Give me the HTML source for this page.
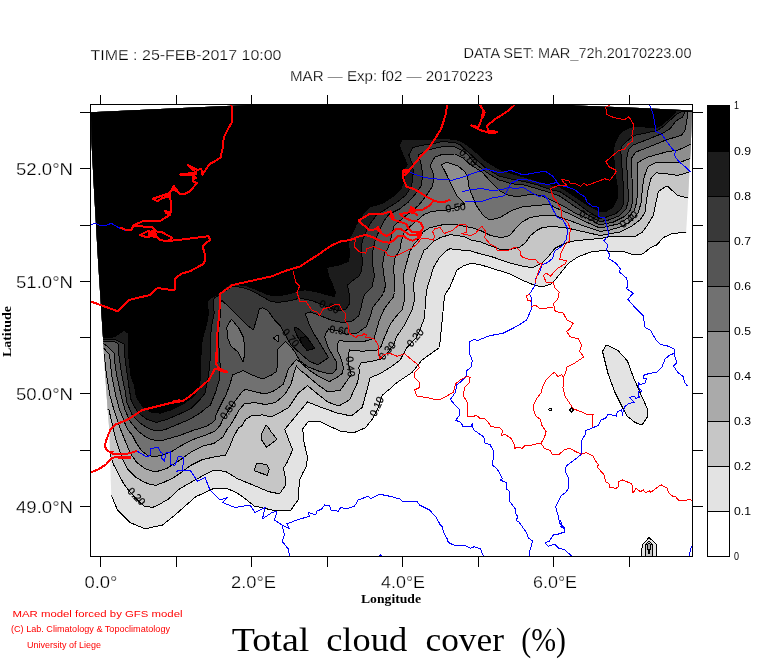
<!DOCTYPE html>
<html lang="en"><head><meta charset="utf-8"><title>Total cloud cover (%)</title>
<style>html,body{margin:0;padding:0;background:#fff}body{width:768px;height:662px;overflow:hidden}svg{display:block}.s{font-family:"Liberation Sans",sans-serif;fill:#000;stroke:#fff;stroke-width:.25px;paint-order:fill stroke}.r{font-family:"Liberation Sans",sans-serif;fill:#f00}.b{font-family:"Liberation Sans",sans-serif;fill:#000}.f{font-family:"Liberation Serif",serif;fill:#000}.c{font-family:"Liberation Sans",sans-serif;fill:#000;stroke:#000;stroke-width:.2px}</style></head><body>
<svg width="768" height="662" viewBox="0 0 768 662">
<rect width="768" height="662" fill="#fff"/>
<defs><clipPath id="dom"><polygon points="91.0,112.3 176.4,108.2 232.0,105.8 262.0,104.3 300.0,103.0 560.0,103.0 576.0,105.5 640.0,108.0 692.0,110.6 690.8,145.0 687.5,210.0 686.0,234.0 680.0,400.0 672.0,556.0 114.5,556.0 111.5,499.0 110.7,480.0 109.4,430.0 108.4,420.0 106.6,395.0 105.3,377.0 103.0,338.0 98.0,260.0 94.0,190.0 91.5,142.0"/></clipPath><clipPath id="frm"><rect x="91" y="105" width="601" height="451"/></clipPath></defs>
<g clip-path="url(#frm)" shape-rendering="crispEdges"><g clip-path="url(#dom)" stroke="#000" stroke-width="1" stroke-linejoin="round">
<polygon fill="#e3e3e3" points="80.0,95.0 700.0,95.0 700.0,232.5 687.8,232.5 673.0,233.3 663.5,237.5 656.6,245.0 651.0,247.5 642.5,253.9 633.5,255.0 625.0,252.0 608.5,251.2 605.6,250.4 591.7,251.7 578.3,256.7 568.3,263.3 561.7,271.7 555.0,280.0 551.5,283.8 542.0,287.0 534.0,285.0 521.7,280.0 508.3,273.3 491.7,268.3 480.0,264.6 471.0,263.3 463.3,266.0 457.0,270.0 450.0,286.8 444.5,295.6 442.0,322.5 439.5,347.5 422.0,360.0 412.0,372.5 397.0,382.5 390.0,388.8 382.5,395.0 378.0,408.0 373.0,418.4 365.3,427.8 354.4,432.5 341.9,431.7 329.4,426.2 320.0,421.6 308.3,421.6 302.8,428.6 303.6,440.3 307.5,457.5 306.0,466.9 302.8,473.0 299.5,480.0 298.2,500.0 290.8,510.0 272.0,510.0 254.2,506.0 247.7,500.7 237.3,493.0 226.9,488.4 213.9,488.4 195.6,496.8 185.2,506.0 175.0,515.0 162.5,525.0 145.0,528.8 130.0,522.5 117.5,510.0 111.2,495.0 80.0,495.0"/>
<polygon fill="#e3e3e3" points="606.0,345.0 602.5,351.5 608.0,373.5 615.0,392.5 622.5,407.5 627.0,416.0 635.0,422.5 642.0,425.0 647.3,417.0 647.0,408.0 640.0,392.5 633.5,377.5 627.5,361.0 618.0,350.5 610.0,346.5"/>
<polygon fill="#e3e3e3" points="641.5,556.0 642.2,545.0 649.0,537.5 656.0,543.8 656.5,556.0"/>
<polygon fill="#e3e3e3" points="548.5,409.5 550.2,408.0 552.0,409.5 550.2,411.0"/>
<polygon fill="#e3e3e3" points="569.5,410.0 571.5,408.0 573.5,410.0 571.5,412.0"/>
<polygon fill="#c6c6c6" points="80.0,95.0 700.0,95.0 700.0,198.0 688.5,198.2 677.7,195.5 667.0,185.8 658.4,191.5 656.0,202.0 653.4,215.0 647.0,226.0 642.5,232.0 636.0,236.0 628.5,236.8 611.0,236.5 600.0,238.5 591.7,239.2 575.0,240.8 565.0,243.3 555.0,248.3 548.3,256.7 541.7,263.3 533.3,267.5 525.0,266.7 508.3,262.5 491.7,256.7 480.4,253.9 471.0,251.0 458.0,249.7 450.0,248.8 446.0,250.8 439.8,257.0 433.5,267.5 430.0,279.0 426.8,289.4 425.7,298.8 424.5,317.5 420.0,330.0 416.0,338.0 407.0,347.5 400.0,360.3 391.0,366.8 380.7,373.3 370.0,377.8 366.9,390.3 362.2,407.5 351.2,416.0 337.2,413.0 321.6,407.5 307.5,402.0 295.0,416.9 284.8,429.4 288.8,440.3 292.7,449.7 287.2,462.2 283.3,468.4 284.8,473.0 285.8,485.0 279.5,493.8 268.5,491.6 252.9,485.0 237.3,478.6 225.6,471.4 213.9,470.0 206.0,474.0 193.0,481.2 180.0,488.5 175.0,493.0 168.8,498.8 160.0,504.0 152.5,507.5 143.8,506.0 135.0,497.5 128.0,489.4 124.0,484.2 118.8,474.8 113.5,464.4 110.0,454.0 80.0,454.0"/>
<polygon fill="#c6c6c6" points="645.0,556.0 645.5,545.0 649.0,541.0 652.5,545.0 653.0,556.0"/>
<polygon fill="#aaaaaa" points="80.0,95.0 700.0,95.0 700.0,171.5 691.0,171.5 678.0,175.4 667.7,174.0 656.0,172.8 650.8,178.6 648.2,189.0 646.2,202.0 645.0,212.5 640.0,220.0 632.0,226.0 620.0,232.0 600.0,235.5 583.3,231.7 568.3,228.3 555.0,226.7 550.0,226.8 543.0,227.3 536.7,230.4 530.4,235.6 525.2,243.0 520.0,247.0 511.7,249.2 501.2,249.7 490.8,246.0 480.4,241.9 470.0,239.8 464.6,236.6 450.3,234.7 440.8,237.3 433.5,241.5 428.3,246.7 426.8,248.8 424.2,249.8 420.0,260.2 415.8,273.8 413.2,285.2 414.3,294.6 414.8,298.8 412.0,310.0 404.5,325.0 400.0,331.7 396.4,336.9 393.8,344.7 388.0,352.0 380.7,359.0 373.0,361.0 361.2,363.0 358.6,368.0 359.8,370.0 357.5,382.5 349.7,399.7 338.8,406.0 327.8,402.0 316.9,393.4 307.5,385.6 298.0,393.4 288.8,407.5 274.7,415.3 270.0,416.9 262.5,414.9 252.0,415.5 245.6,419.4 241.7,426.0 238.6,427.8 233.4,437.0 229.5,447.3 225.6,455.0 213.9,457.0 202.0,459.7 190.4,465.6 180.0,473.4 173.0,477.9 164.6,482.0 156.2,485.2 151.0,484.7 143.8,482.0 135.4,476.9 128.0,469.6 123.4,461.2 120.8,454.0 116.7,442.5 113.5,430.0 109.0,410.0 80.0,408.0"/>
<polygon fill="#aaaaaa" points="647.0,545.5 649.0,543.0 651.0,545.5 649.0,553.5"/>
<polygon fill="#8e8e8e" points="80.0,95.0 700.0,95.0 700.0,158.0 690.8,158.3 679.4,162.5 656.5,162.0 648.0,166.7 644.2,176.7 642.3,189.0 641.4,202.0 638.0,213.0 632.0,220.5 622.0,226.5 610.0,230.0 600.0,231.4 583.3,225.8 568.3,220.0 555.0,215.8 550.0,215.3 543.0,215.3 530.4,217.4 522.0,222.0 514.8,229.4 509.6,235.6 501.2,237.7 490.8,235.6 480.4,230.4 471.0,227.5 458.0,225.0 445.0,224.3 437.7,225.8 429.4,227.9 423.0,232.0 419.0,238.3 413.8,244.6 411.7,248.8 410.1,250.8 406.5,263.3 403.3,275.8 404.4,288.3 404.9,298.8 402.0,310.0 396.4,316.0 389.8,325.0 384.6,337.0 380.7,347.3 376.8,350.0 362.5,351.2 349.5,350.0 348.2,355.0 349.0,366.0 351.2,374.7 340.3,390.3 327.8,391.9 316.9,384.0 306.0,374.7 299.7,370.0 296.4,366.0 293.8,373.9 291.0,384.3 284.6,394.7 275.5,402.5 265.0,404.5 254.7,402.5 244.3,403.8 239.0,410.3 233.9,419.4 230.0,426.0 228.0,427.8 223.0,437.0 213.9,443.4 203.4,446.0 190.4,452.5 180.0,460.0 166.7,468.5 158.3,471.1 152.0,471.1 144.8,468.5 136.5,462.3 130.2,453.0 125.0,440.4 120.8,430.0 114.0,410.0 109.8,395.0 106.8,376.8 105.2,364.3 104.3,354.0 80.0,353.0"/>
<polygon fill="#717171" points="80.0,95.0 700.0,95.0 700.0,144.3 690.8,144.3 678.3,150.0 665.8,152.1 647.1,157.3 638.0,162.5 637.0,168.8 637.8,176.0 637.5,189.0 636.8,202.0 634.0,211.0 628.0,218.0 618.0,224.0 600.0,228.1 581.7,220.0 568.3,213.3 555.0,207.5 550.0,204.4 536.7,205.4 522.0,207.0 511.7,210.6 500.2,217.4 489.8,220.0 483.5,215.8 476.2,205.4 472.0,195.0 469.2,188.3 467.6,176.9 465.0,171.7 457.7,165.9 446.8,162.3 441.6,164.9 446.2,173.8 449.0,180.0 456.8,195.6 464.6,204.0 455.0,208.0 445.0,210.6 432.5,211.2 424.2,214.4 416.9,220.6 409.6,226.9 404.4,232.0 402.3,238.3 400.7,244.6 400.2,248.8 395.0,258.1 393.4,269.6 395.0,282.0 394.5,292.5 393.0,297.5 384.6,308.2 379.4,320.0 376.8,329.0 374.2,338.2 362.5,342.0 339.0,340.8 337.0,344.7 337.8,351.2 341.7,360.3 343.6,368.0 342.3,373.3 338.8,376.2 329.4,381.7 318.4,376.2 309.0,370.0 300.0,362.0 296.4,359.5 288.5,368.6 286.0,376.5 283.3,384.3 274.2,390.8 265.0,394.0 256.0,392.0 245.6,389.5 243.0,390.8 235.0,401.0 222.0,420.7 220.4,425.2 215.0,431.0 206.0,435.0 193.0,439.5 180.0,446.3 173.0,450.8 164.6,454.5 155.2,456.6 148.0,455.5 141.7,450.8 136.5,443.5 132.3,435.2 128.0,430.0 125.0,423.5 119.0,408.0 115.6,395.0 111.9,376.8 110.7,365.8 109.5,354.5 104.0,348.6 80.0,348.0"/>
<polygon fill="#555555" points="80.0,95.0 700.0,95.0 700.0,111.0 688.2,111.2 686.7,120.8 685.1,130.2 681.5,135.4 666.9,139.6 649.2,146.9 635.6,152.1 631.5,158.3 631.5,168.0 631.9,176.0 632.5,189.0 632.5,202.0 630.6,210.0 624.7,216.4 613.0,222.3 600.0,224.9 589.0,219.0 575.0,213.0 565.0,207.0 551.5,200.3 541.0,195.3 530.0,194.5 516.7,196.7 508.0,195.0 500.0,191.0 490.0,181.0 482.0,172.0 470.0,164.4 463.0,158.1 454.6,154.0 442.0,154.5 434.8,157.1 430.1,165.4 433.8,174.8 433.5,180.0 432.5,186.2 426.2,195.6 419.0,205.0 411.7,211.2 401.2,219.6 394.0,225.8 391.9,234.2 389.8,242.5 387.7,248.8 384.6,252.9 382.5,264.4 384.0,275.8 385.6,285.2 383.5,293.5 379.5,299.0 373.0,307.0 370.3,316.0 366.4,326.5 357.3,333.0 346.9,334.3 338.0,331.0 328.6,329.0 326.0,333.0 324.7,336.9 328.0,347.3 332.5,355.2 336.7,362.5 336.7,368.8 333.0,373.0 326.0,373.0 319.5,371.4 307.8,366.8 300.0,361.0 295.0,352.0 291.0,346.9 285.6,341.7 277.8,349.0 277.5,360.0 276.8,371.2 271.6,375.0 262.5,379.0 252.0,375.0 243.0,370.6 232.5,375.0 230.0,384.3 226.0,394.7 220.8,405.0 215.6,415.5 215.0,420.0 212.5,422.6 206.0,426.5 193.0,430.4 180.0,435.4 162.5,440.4 152.0,439.9 144.8,436.2 138.0,431.0 130.2,421.5 125.0,410.0 121.0,395.0 117.0,376.8 115.0,364.3 114.2,353.3 109.1,347.8 103.6,343.5 80.0,343.5"/>
<polygon fill="#717171" points="231.2,319.5 226.7,327.3 228.0,339.0 231.2,346.5 237.8,351.7 243.0,362.0 245.0,353.0 244.3,345.0 243.6,337.7 239.0,328.6 233.9,322.0"/>
<polygon fill="#717171" points="273.0,338.0 278.0,335.0 278.0,341.6"/>
<polygon fill="#393939" points="80.0,95.0 700.0,95.0 700.0,111.0 685.6,111.2 682.5,117.2 676.2,120.8 670.0,128.6 662.7,133.3 646.0,140.1 633.5,144.8 628.3,150.0 626.5,160.0 627.3,176.0 628.0,189.0 628.0,202.0 626.0,209.2 619.5,215.8 607.8,220.3 600.0,221.6 589.0,215.5 574.0,206.0 560.0,196.2 551.0,192.9 538.0,189.0 525.0,185.1 512.0,183.8 499.0,179.9 486.0,172.0 474.3,163.0 468.0,155.0 463.0,150.8 454.6,146.7 442.0,146.7 428.5,149.8 421.2,153.4 418.6,155.0 421.2,164.4 422.8,174.8 422.0,180.0 421.0,186.2 415.8,193.5 408.5,201.9 399.2,209.2 388.8,214.4 383.5,221.7 379.4,230.0 375.2,240.4 373.0,250.0 372.9,266.5 374.5,275.8 371.9,287.3 364.6,294.6 363.0,298.8 361.2,307.0 358.6,316.0 352.0,321.2 343.0,322.5 332.5,320.6 319.5,315.4 310.4,312.0 305.2,313.4 309.0,323.8 314.3,334.3 320.8,344.7 328.5,357.7 318.0,364.7 309.6,361.5 301.2,354.2 290.8,344.8 285.6,335.4 280.4,326.0 274.2,319.5 267.7,310.4 262.5,307.8 259.2,309.0 257.3,316.9 253.4,329.9 248.2,326.0 239.0,316.9 230.0,307.8 222.0,300.6 220.2,303.8 220.8,311.7 219.5,322.0 218.2,335.0 218.2,340.0 219.5,353.0 220.2,366.0 219.5,379.0 215.6,392.0 210.4,405.0 205.0,409.0 200.0,413.1 189.6,419.4 177.0,424.6 164.6,429.8 156.2,430.8 149.0,428.8 140.6,423.5 132.3,415.2 127.0,402.7 125.0,390.2 122.1,376.8 120.9,369.0 119.0,356.4 118.6,344.2 113.9,341.1 103.2,341.9 80.0,342.0"/>
<polygon fill="#1c1c1c" points="80.0,95.0 700.0,95.0 700.0,111.0 682.5,111.2 676.2,114.6 670.0,120.3 663.8,126.0 658.0,130.2 651.2,131.8 634.6,135.4 629.4,139.0 622.0,146.0 620.8,150.0 621.5,163.0 622.8,176.0 623.4,189.0 624.0,202.0 621.5,208.6 615.6,213.8 606.5,217.0 600.0,218.4 589.0,212.0 574.0,201.0 560.0,191.6 551.0,189.7 538.0,185.1 525.0,181.8 512.0,179.2 499.0,176.0 486.0,168.2 473.0,156.5 460.0,144.7 454.6,142.5 442.0,141.5 431.7,144.0 420.2,145.6 412.9,147.7 408.8,155.0 412.4,164.4 413.4,171.7 412.4,179.0 412.7,180.0 411.1,187.3 405.4,195.6 396.0,202.9 385.6,209.2 376.2,215.4 370.0,223.8 366.7,230.0 362.5,240.4 361.0,247.7 362.5,261.2 361.5,270.6 359.4,275.8 352.0,281.0 347.4,285.2 349.0,292.5 350.0,303.0 345.6,309.5 337.8,310.8 325.0,306.0 313.0,301.0 300.0,298.0 291.0,300.6 278.0,302.5 270.3,301.2 261.2,296.0 252.0,290.8 243.0,287.6 233.9,286.3 231.2,287.0 219.5,294.7 214.3,298.0 213.0,303.8 214.3,313.0 211.7,326.0 210.0,340.0 210.4,353.0 209.8,366.0 207.8,379.0 205.0,393.3 200.0,399.6 191.7,408.0 179.2,414.2 166.7,419.4 156.2,422.5 146.9,419.4 137.5,412.0 131.2,400.6 128.6,385.0 127.6,376.8 126.4,369.0 124.8,356.4 124.0,343.9 114.6,339.5 103.2,339.5 80.0,339.5"/>
<polygon fill="#1c1c1c" points="294.5,327.6 296.0,327.0 301.2,331.2 306.5,336.5 311.7,343.8 314.8,348.4 307.0,350.5 302.3,344.8 298.0,337.5 294.5,330.2"/>
<polygon fill="#000000" points="80.0,95.0 700.0,95.0 700.0,110.0 676.8,110.4 670.0,117.7 661.7,125.0 655.4,128.1 640.8,126.6 630.4,127.1 624.2,130.2 620.0,133.3 615.0,143.0 613.0,150.0 614.3,163.0 615.6,176.0 617.6,189.0 617.0,199.5 613.0,207.0 606.0,211.5 599.0,211.0 589.0,206.0 574.0,196.0 560.0,187.0 551.0,185.1 538.0,181.2 525.0,177.3 512.0,173.6 499.0,169.2 486.0,161.2 473.0,149.6 466.0,144.5 460.0,140.6 454.6,139.4 442.0,138.3 431.7,139.4 419.2,139.9 402.5,139.4 399.4,145.6 403.5,156.0 407.2,164.4 403.5,170.6 404.6,179.0 404.4,180.0 401.2,188.3 394.0,195.6 383.5,202.9 370.0,207.0 363.0,214.0 359.5,220.0 355.5,226.0 354.2,230.0 350.0,237.3 348.4,245.6 350.0,252.9 348.4,261.2 339.6,264.9 326.6,267.5 328.6,275.8 332.3,284.2 335.4,292.5 334.4,296.7 326.0,294.6 315.6,291.5 305.2,289.9 300.0,290.3 291.0,293.4 278.0,296.0 267.7,294.7 256.0,289.5 245.6,285.6 233.9,284.3 230.0,283.7 223.4,289.5 217.0,294.7 209.0,299.3 207.2,302.5 208.5,313.0 206.5,324.7 203.0,337.0 201.3,345.0 200.7,366.0 200.5,379.0 198.5,389.0 193.8,396.5 183.3,403.8 170.8,410.0 160.4,413.1 152.0,412.6 142.7,406.9 136.5,397.5 134.4,385.0 131.1,376.8 129.6,364.3 128.0,348.6 128.0,333.2 124.5,330.1 114.6,336.8 103.2,338.0 80.0,338.0"/>
<polygon fill="#aaaaaa" points="266.0,425.2 262.0,433.0 261.4,439.5 266.6,447.3 277.0,439.5 271.0,431.7 268.5,427.8"/>
<polygon fill="#aaaaaa" points="256.8,463.0 254.2,470.8 267.2,475.3 269.2,469.5 267.2,465.0 260.7,463.6"/>
<polygon fill="#101010" points="300.2,338.0 306.0,336.5 311.7,343.8 314.8,348.4 307.0,350.5 302.3,344.8"/>
</g>
<text class="c" x="466.0" y="160.0" font-size="10.5" transform="rotate(42 466.0 160.0)" text-anchor="middle">0.70</text>
<text class="c" x="456.0" y="211.0" font-size="10.5" transform="rotate(-8 456.0 211.0)" text-anchor="middle">0.50</text>
<text class="c" x="588.0" y="220.0" font-size="10.5" transform="rotate(22 588.0 220.0)" text-anchor="middle">0.60</text>
<text class="c" x="631.0" y="222.0" font-size="10.5" transform="rotate(-40 631.0 222.0)" text-anchor="middle">0.40</text>
<text class="c" x="328.0" y="310.0" font-size="10.5" transform="rotate(22 328.0 310.0)" text-anchor="middle">0.80</text>
<text class="c" x="339.0" y="334.0" font-size="10.5" transform="rotate(8 339.0 334.0)" text-anchor="middle">0.60</text>
<text class="c" x="288.0" y="340.0" font-size="10.5" transform="rotate(50 288.0 340.0)" text-anchor="middle">0.70</text>
<text class="c" x="347.0" y="367.0" font-size="10.5" transform="rotate(85 347.0 367.0)" text-anchor="middle">0.40</text>
<text class="c" x="390.0" y="353.0" font-size="10.5" transform="rotate(-50 390.0 353.0)" text-anchor="middle">0.30</text>
<text class="c" x="418.0" y="340.0" font-size="10.5" transform="rotate(-50 418.0 340.0)" text-anchor="middle">0.20</text>
<text class="c" x="380.0" y="408.0" font-size="10.5" transform="rotate(-65 380.0 408.0)" text-anchor="middle">0.10</text>
<text class="c" x="231.0" y="412.0" font-size="10.5" transform="rotate(-55 231.0 412.0)" text-anchor="middle">0.50</text>
<text class="c" x="134.0" y="499.0" font-size="10.5" transform="rotate(45 134.0 499.0)" text-anchor="middle">0.20</text>
<polyline fill="none" stroke="#0000ff" stroke-width="1" points="90.2,225.0 95.0,223.2 100.0,225.5 107.5,225.0 111.2,223.2 117.5,227.0 123.8,230.0 130.0,230.5"/>
<polyline fill="none" stroke="#0000ff" stroke-width="1" points="136.5,450.8 146.9,457.0 150.0,455.0 151.0,448.2 158.3,447.7 160.4,451.9 162.5,453.4 161.5,458.0 164.6,461.2 165.6,453.0 170.8,451.9 170.8,464.4 175.0,465.4 178.0,457.0 180.0,456.2 183.8,457.5 182.5,470.0 176.2,471.2 190.0,470.0 197.5,481.2 205.0,477.5 210.0,490.0 220.0,500.0 227.5,497.5 222.5,502.5 235.0,507.5 250.0,505.0 255.0,512.5 265.0,507.5 262.5,518.8 272.0,512.5 277.0,511.2 274.5,520.0 282.0,525.0 284.5,535.0 282.0,541.2 288.2,548.8 289.5,556.0"/>
<polyline fill="none" stroke="#0000ff" stroke-width="1" points="282.0,525.0 289.5,528.8 287.0,523.8 297.0,520.0 309.5,516.2 308.2,512.5 315.8,515.0 317.0,511.2 322.0,508.8 324.5,505.0 329.5,505.5 330.8,510.0 338.2,511.2 340.8,507.5 347.0,508.8 354.5,506.2 358.2,500.0 368.2,496.2 370.8,498.8 379.5,494.2 389.5,496.2 399.5,498.8 402.0,501.2 417.0,501.2 419.5,505.0 429.5,510.0 436.0,517.0 440.0,524.4 442.0,526.5 444.2,533.8 447.3,539.0 448.3,542.5 455.6,545.8 465.0,545.2 470.2,548.3 474.4,546.7 480.6,548.8 482.7,554.6 483.8,556.2"/>
<polyline fill="none" stroke="#0000ff" stroke-width="1" points="379.5,556.0 380.8,554.5 382.0,556.0"/>
<polyline fill="none" stroke="#0000ff" stroke-width="1" points="408.5,171.0 414.0,174.0 421.0,176.5 430.0,178.5 440.0,179.2 452.5,180.2 463.0,177.0 485.8,168.8 500.4,173.0 510.8,170.4 523.3,175.0 533.8,173.0 545.2,171.2 552.5,176.0 556.7,181.2 554.2,183.3 548.3,184.4 540.0,183.3 529.6,180.2 519.2,179.2 510.8,183.3 506.7,191.7 504.6,195.8 492.0,198.0 479.6,202.0 465.0,201.0"/>
<polyline fill="none" stroke="#0000ff" stroke-width="1" points="461.9,191.7 471.2,189.6 481.7,188.5 492.0,190.6 502.5,189.6 508.8,187.5 515.0,188.5 523.3,187.5 531.7,192.7 538.0,196.2 544.2,195.8 548.3,200.0 553.5,210.4 556.7,216.7 563.0,219.8 567.5,228.3 566.7,238.8 561.9,246.0 554.6,251.2 552.5,258.5 547.3,262.7 542.0,264.8 540.0,271.0 535.8,278.3 534.8,285.6 529.6,294.0 531.7,298.0 531.2,309.6 526.5,320.0 520.2,324.2 513.0,328.3 502.5,333.5 490.0,335.6 481.7,338.8 477.5,340.8 474.4,339.2 469.2,341.9 469.2,352.5 472.3,360.8 471.2,367.0 466.0,371.2 466.0,376.5 460.8,381.7 456.7,384.8 455.6,392.0 450.4,399.4 454.6,404.6 459.8,409.8 459.8,415.0 455.6,420.2 460.8,422.3 463.0,426.5 471.2,426.5 472.3,423.3 473.3,429.6 483.8,436.9 484.8,443.0 490.0,444.6 493.8,451.5 492.5,465.0 497.3,469.2 502.5,478.5 500.4,480.0 506.2,482.7 506.7,489.0 509.8,492.0 509.8,501.5 516.0,509.8 515.4,513.0 518.0,517.0 516.0,520.2 519.2,522.3 526.5,532.7 528.5,538.0 532.7,541.0 531.7,544.2 529.6,551.5 529.6,556.2"/>
<polyline fill="none" stroke="#0000ff" stroke-width="1" points="556.7,182.3 560.0,185.4 566.2,186.5 574.6,189.6 579.8,193.8 585.0,196.9 587.0,202.0 592.3,206.2 598.5,207.3 598.5,216.7 604.8,217.7 606.9,226.2 609.0,234.6 603.8,240.8 608.0,245.0 606.2,250.2 610.0,254.4 608.3,258.5 615.2,262.7 617.3,264.8 620.4,269.0 619.4,272.0 626.7,278.3 627.7,284.6 626.7,288.8 633.3,293.3 627.7,299.2 635.0,307.5 643.3,315.8 645.0,327.3 650.6,330.4 655.8,339.8 660.0,344.2 668.3,346.2 674.6,349.4 674.2,353.5 676.7,363.0 673.5,366.0 677.7,372.3 683.0,376.5 685.0,382.7 687.5,386.2"/>
<polyline fill="none" stroke="#0000ff" stroke-width="1" points="649.6,104.6 652.7,112.5 654.8,123.0 655.8,131.2 662.0,134.4 666.2,140.6 672.5,149.0 675.6,151.0 674.2,155.2 678.8,161.5 685.0,166.7 690.2,171.9"/>
<polyline fill="none" stroke="#0000ff" stroke-width="1" points="674.2,353.5 670.4,354.6 665.2,358.8 662.0,367.0 656.9,372.3 649.6,373.3 643.3,375.4 643.3,378.5 646.5,378.5 645.4,382.7 640.2,384.8 638.0,381.7 639.2,389.0 642.3,391.0 638.0,392.0 639.2,397.3 636.0,398.3 634.0,396.2 629.8,397.3 634.0,402.5 628.8,403.5 624.6,406.7 622.5,414.0 621.5,409.8 617.3,411.9 616.2,416.0 608.0,414.0 605.8,418.0 600.6,420.2 598.5,425.4 593.3,427.5 586.0,430.6 585.0,434.8 581.5,441.0 581.5,454.2 574.6,459.8 566.2,466.0 565.2,471.2 568.3,477.5 569.0,486.9 566.2,492.0 560.8,496.2 555.6,506.7 557.7,514.0 559.8,523.3 564.0,527.5 564.6,531.7 559.8,533.8 553.5,534.8 549.4,541.0 545.2,543.0 548.3,546.2 554.6,544.2 558.8,548.3 564.0,549.4 570.2,554.6 571.7,556.2"/>
<polyline fill="none" stroke="#0000ff" stroke-width="1" points="560.0,520.2 562.0,524.4 561.0,526.5 564.5,529.2 564.2,532.7 560.0,533.4"/>
<polyline fill="none" stroke="#0000ff" stroke-width="1" points="692.3,545.2 690.2,550.4 689.6,556.2"/>
<polyline fill="none" stroke="#ff0000" stroke-width="1" points="293.2,271.2 295.8,282.5 299.5,286.2 297.0,292.5 300.0,301.5 305.9,301.5 312.4,310.8 316.9,311.5 319.5,315.4 323.4,308.9 330.0,307.0 335.2,304.3 339.0,304.3 341.7,309.5 345.6,313.4 344.9,320.0 348.2,325.2 348.8,333.0 352.0,335.0 356.0,337.5 358.0,335.6 362.5,335.0 363.8,333.6 366.4,335.0 365.1,337.5 373.0,338.2 375.5,340.8 378.0,344.7 378.0,352.5 380.0,359.0 383.3,354.5 389.8,353.2 393.8,355.0 397.0,356.2 404.5,353.8 412.0,360.0 417.0,363.8 419.5,367.5 414.5,372.5 414.5,377.5 419.5,382.5 419.5,387.5 414.5,390.0 417.0,396.2 427.0,397.5 437.0,400.0 440.0,399.4 448.3,395.2 453.5,392.0 455.6,383.8 460.8,379.6 467.0,376.5 470.2,377.5 469.2,382.7 465.0,386.9 463.0,395.2 467.0,401.5 468.0,407.7 467.0,416.0 471.2,417.0 476.5,415.4 480.6,418.8 484.8,418.8 489.0,423.3 491.0,426.5 496.2,427.5 499.4,427.5 502.5,430.6 501.5,435.8 504.6,434.2 510.8,438.0 514.0,444.2 514.0,448.3 519.2,447.3 522.3,448.3 525.4,445.2 531.7,445.2 538.0,443.5 541.0,443.0"/>
<polyline fill="none" stroke="#ff0000" stroke-width="1" points="350.0,240.1 355.2,239.5 354.6,247.3 359.1,251.8 365.6,253.2 367.0,248.6 373.4,246.6 380.0,249.2 385.2,251.2 387.8,255.1 393.0,257.0 402.0,253.2 411.2,248.6 417.7,243.4 421.0,238.8 428.0,238.8 433.3,240.1 434.6,236.2 432.7,231.7 434.6,229.0 440.0,227.3 444.2,233.5 452.5,230.4 459.8,224.2 467.0,225.2 466.7,232.5 460.8,233.5 471.2,235.6 475.4,233.5 481.7,226.2 485.8,231.5 484.8,237.7 490.0,244.0 496.2,247.0 497.3,250.8 506.7,250.8 516.0,247.0 520.2,251.2 521.2,256.5 529.6,259.6 535.8,259.6 538.0,262.7 542.0,263.8 539.0,270.0 536.9,276.2 534.8,283.5"/>
<polyline fill="none" stroke="#ff0000" stroke-width="1" points="611.0,104.6 605.8,107.3 606.9,114.6 614.2,117.7 624.6,119.8 628.8,116.7 634.0,125.0 631.9,135.4 633.0,140.6 627.7,144.8 624.6,149.0 618.3,151.0 612.0,156.2 605.8,161.5 609.0,166.7 615.2,169.8 616.2,171.9 610.0,180.2 604.8,178.8 595.4,182.3 587.0,185.4 584.0,183.3 580.8,186.5 574.6,183.3 570.4,183.3 568.3,180.2 562.0,179.8 564.2,183.3 567.3,185.0 558.8,185.4 550.4,188.5 553.5,198.0 555.6,200.0 560.8,208.3 561.9,216.7 568.0,223.0 570.2,228.3 569.6,240.8 565.0,245.0 560.8,253.3 559.8,259.6 566.7,260.6 565.0,263.8 556.7,269.0 550.4,276.2 546.2,273.0 543.5,275.8 546.2,282.5 553.5,282.5 554.6,287.7 559.2,291.9 557.7,299.2 553.5,303.3 554.6,309.6 555.6,311.7 563.0,312.7 567.0,320.0 573.3,323.0 570.2,328.3 566.7,331.5 570.2,336.7 578.5,338.8 581.7,345.0 579.6,351.2 583.8,356.7 579.6,359.8 573.3,364.0 567.0,367.0 565.0,374.4 563.3,377.5 563.0,388.0 565.0,396.2 569.2,402.5 573.3,408.8 581.7,411.9 585.8,414.0 593.0,414.6 592.0,422.3 593.0,426.5"/>
<polyline fill="none" stroke="#ff0000" stroke-width="1" points="529.6,294.0 526.5,296.0 527.5,300.2 531.2,301.2"/>
<polyline fill="none" stroke="#ff0000" stroke-width="1" points="531.2,306.5 535.8,305.4 540.0,308.5 553.5,307.5"/>
<polyline fill="none" stroke="#ff0000" stroke-width="1" points="541.0,443.0 544.2,438.0 546.2,431.7 542.0,425.4 540.0,419.2 535.8,416.0 533.8,410.8 533.8,404.6 536.9,398.3 541.0,393.0 543.0,385.8 546.2,379.6 551.5,374.4 554.6,372.3 557.7,376.5 561.9,374.4 563.3,377.5"/>
<polyline fill="none" stroke="#ff0000" stroke-width="1" points="541.0,443.0 544.2,448.3 550.4,450.4 552.5,454.6 558.8,454.6 565.0,449.4 570.2,448.3 575.4,451.5 581.5,454.2 586.0,452.5 593.3,456.2 595.4,460.8 598.5,464.6 597.0,467.0 603.8,474.4 605.8,481.7 609.0,483.8 609.0,487.5 616.2,488.3 618.0,486.9 618.0,481.7 622.5,480.0 631.9,483.8 633.0,493.0 636.0,488.3 640.2,491.7 643.3,490.0 645.4,492.5 649.6,491.0 650.6,492.5 658.0,486.9 661.0,484.8 667.3,488.0 668.3,492.0 671.5,495.8 675.6,496.7 678.8,500.4 687.0,500.0 690.2,499.4 692.3,500.8"/>
<polyline fill="none" stroke="#ff0000" stroke-width="2" stroke-linejoin="round" points="231.2,104.5 232.5,112.5 231.8,122.5 227.5,130.0 223.8,137.5 222.5,148.8 220.5,157.5 216.2,160.5 210.0,163.8 206.2,168.8 202.5,174.5 201.2,168.8 197.5,170.0 187.5,165.0 196.2,172.5 180.0,174.5 193.8,175.5 192.5,181.2 197.0,183.0 190.0,191.2 185.0,193.8 180.0,193.8 176.2,190.0 173.8,185.5 171.2,191.2 167.5,193.8 152.5,198.8 157.5,201.2 162.5,198.0 170.0,196.2 171.2,205.0 171.2,212.5 165.0,211.2 166.2,213.0 170.5,214.5 160.0,221.2 143.8,220.8 133.8,225.0 131.2,230.0 126.2,230.0 120.0,227.5"/>
<polyline fill="none" stroke="#ff0000" stroke-width="2" stroke-linejoin="round" points="133.8,226.2 152.5,226.8 155.0,231.2 162.5,232.5 172.5,238.0 167.5,241.2 160.0,240.0 156.2,236.2 155.0,230.0 153.8,235.0 147.5,237.5 140.0,235.0 147.5,231.2 153.0,232.0"/>
<polyline fill="none" stroke="#ff0000" stroke-width="2" stroke-linejoin="round" points="167.5,241.2 187.5,238.8 208.8,236.2 210.0,240.0 205.0,243.8 202.5,246.2 204.5,252.5 205.0,260.0 203.8,263.8 190.0,271.2 181.2,273.8 175.0,278.8 174.5,290.5 157.5,288.0 150.0,295.0 128.8,300.0 117.5,311.2 90.0,301.2"/>
<polyline fill="none" stroke="#ff0000" stroke-width="2" stroke-linejoin="round" points="127.0,420.0 142.5,410.0 172.5,402.5 182.5,401.2 190.0,396.2 208.8,380.0 215.0,368.8 220.0,370.0 227.5,372.0 220.0,370.0 216.2,363.8 217.0,350.0 217.5,332.5 219.5,310.0 220.0,293.8 232.5,285.0 272.0,276.2 285.0,271.0 300.0,266.5 310.4,259.7 320.8,252.9 331.2,245.6 340.6,241.5 350.0,240.1"/>
<polyline fill="none" stroke="#ff0000" stroke-width="2" stroke-linejoin="round" points="127.0,420.0 115.2,424.5 110.7,429.0 107.0,438.0 104.8,445.4 106.1,449.0 109.8,452.2 113.4,454.0 124.3,454.0 130.6,453.1 137.0,450.8"/>
<polyline fill="none" stroke="#ff0000" stroke-width="2" stroke-linejoin="round" points="109.5,451.5 113.5,452.5"/>
<polyline fill="none" stroke="#ff0000" stroke-width="2" stroke-linejoin="round" points="130.6,456.7 117.9,456.7 111.6,458.0 106.1,464.4 98.9,469.0 90.7,472.6"/>
<polyline fill="none" stroke="#ff0000" stroke-width="2" stroke-linejoin="round" points="130.6,458.0 117.9,458.0"/>
<polyline fill="none" stroke="#ff0000" stroke-width="2" stroke-linejoin="round" points="447.3,104.5 445.5,115.3 441.0,129.2 435.8,137.5 428.5,148.8 419.2,158.1 409.8,169.6 403.5,170.1 402.5,175.8 404.6,182.0 406.7,186.8 414.0,188.9 420.2,192.5 426.2,196.7 432.5,199.8 437.7,201.9 443.0,202.4 450.4,199.6"/>
<polyline fill="none" stroke="#ff0000" stroke-width="2" stroke-linejoin="round" points="403.5,170.1 409.0,171.0 405.0,175.0 402.5,175.8"/>
<polyline fill="none" stroke="#ff0000" stroke-width="2" stroke-linejoin="round" points="433.3,201.0 429.4,205.6 423.0,209.5 415.0,209.5 411.2,207.0 410.0,210.8 412.5,212.8 416.4,214.0 417.7,215.4"/>
<polyline fill="none" stroke="#ff0000" stroke-width="2" stroke-linejoin="round" points="358.5,220.6 369.5,214.0 381.2,214.5 390.4,211.5 393.6,217.3 392.3,219.3 402.0,222.5 406.0,223.8 408.6,228.4 412.5,232.3 421.0,231.7"/>
<polyline fill="none" stroke="#ff0000" stroke-width="2" stroke-linejoin="round" points="358.5,220.6 369.5,230.4 376.0,229.0 378.0,227.0 381.2,233.0 386.5,236.2 391.7,233.0 395.6,229.0 400.8,229.0 404.7,231.7 410.0,235.0 419.0,234.3 421.0,231.7"/>
<polyline fill="none" stroke="#ff0000" stroke-width="2" stroke-linejoin="round" points="417.7,215.4 415.0,213.4 409.9,212.1 400.1,214.1 404.7,218.0 411.2,220.6 417.7,221.2 421.0,223.2 423.0,227.8 421.0,231.7 421.0,233.0 420.3,237.5 416.4,238.8 412.5,240.8 407.3,238.8 403.4,235.6 398.2,235.6 394.3,240.1 389.0,242.7 381.2,241.4 373.4,237.5 365.6,234.9 357.8,236.9 350.0,240.1"/>
<polyline fill="none" stroke="#ff0000" stroke-width="2" stroke-linejoin="round" points="479.6,104.2 484.8,112.5 481.7,118.8 478.5,127.0 471.2,125.4 480.6,130.2 490.0,133.0 497.3,132.3 488.0,130.2 486.9,126.0 494.2,119.8 508.8,110.4 515.0,104.6"/>
<polyline fill="none" stroke="#ff0000" stroke-width="3.4" points="172.5,188.5 177.5,190.5"/>
<polyline fill="none" stroke="#ff0000" stroke-width="3.4" points="166.5,196.0 171.0,194.5"/>
<polyline fill="none" stroke="#ff0000" stroke-width="3.4" points="189.0,173.5 197.0,173.8"/>
<polyline fill="none" stroke="#ff0000" stroke-width="3.4" points="148.0,233.5 155.0,236.5"/>
<polyline fill="none" stroke="#ff0000" stroke-width="3.4" points="153.0,230.0 155.5,238.0"/>
<polyline fill="none" stroke="#ff0000" stroke-width="3.4" points="192.0,174.0 196.0,179.0"/>
<polyline fill="none" stroke="#ff0000" stroke-width="3.4" points="484.0,112.0 482.0,118.0"/>
<polyline fill="none" stroke="#ff0000" stroke-width="3.4" points="488.0,131.5 496.0,132.3"/>
<polyline fill="none" stroke="#ff0000" stroke-width="3.4" points="404.0,171.0 408.0,173.5"/>
<polyline fill="none" stroke="#ff0000" stroke-width="3.4" points="216.5,352.0 216.5,362.0"/>
<polyline fill="none" stroke="#ff0000" stroke-width="3.4" points="219.5,369.5 226.0,372.0"/>
<polyline fill="none" stroke="#ff0000" stroke-width="3.4" points="390.0,214.5 393.0,218.0"/>
<polyline fill="none" stroke="#ff0000" stroke-width="3.4" points="377.0,228.5 380.0,231.0"/>
<polyline fill="none" stroke="#ff0000" stroke-width="3.4" points="411.0,208.5 415.5,212.0"/>
<polyline fill="none" stroke="#ff0000" stroke-width="3.4" points="417.0,234.5 420.5,236.5"/>
<polyline fill="none" stroke="#ff0000" stroke-width="3.4" points="173.0,402.0 180.0,401.0"/>
</g>
<g shape-rendering="crispEdges" stroke="#000" stroke-width="1" fill="none">
<rect x="90.5" y="104.5" width="602" height="452"/>
<path d="M100.5 95V104M100.5 557V567M176.5 95V104M176.5 557V567M251.5 95V104M251.5 557V567M327.5 95V104M327.5 557V567M402.5 95V104M402.5 557V567M478.5 95V104M478.5 557V567M553.5 95V104M553.5 557V567M629.5 95V104M629.5 557V567M80 112.5H90M693 112.5H703M80 168.5H90M693 168.5H703M80 225.5H90M693 225.5H703M80 281.5H90M693 281.5H703M80 337.5H90M693 337.5H703M80 393.5H90M693 393.5H703M80 450.5H90M693 450.5H703M80 506.5H90M693 506.5H703"/>
</g>
<rect x="707.5" y="511.5" width="22" height="45.0" fill="#ffffff" stroke="#000" stroke-width="1" shape-rendering="crispEdges"/>
<rect x="707.5" y="466.5" width="22" height="45.0" fill="#e3e3e3" stroke="#000" stroke-width="1" shape-rendering="crispEdges"/>
<rect x="707.5" y="421.5" width="22" height="45.0" fill="#c6c6c6" stroke="#000" stroke-width="1" shape-rendering="crispEdges"/>
<rect x="707.5" y="376.5" width="22" height="45.0" fill="#aaaaaa" stroke="#000" stroke-width="1" shape-rendering="crispEdges"/>
<rect x="707.5" y="331.5" width="22" height="45.0" fill="#8e8e8e" stroke="#000" stroke-width="1" shape-rendering="crispEdges"/>
<rect x="707.5" y="286.5" width="22" height="45.0" fill="#717171" stroke="#000" stroke-width="1" shape-rendering="crispEdges"/>
<rect x="707.5" y="241.5" width="22" height="45.0" fill="#555555" stroke="#000" stroke-width="1" shape-rendering="crispEdges"/>
<rect x="707.5" y="196.5" width="22" height="45.0" fill="#393939" stroke="#000" stroke-width="1" shape-rendering="crispEdges"/>
<rect x="707.5" y="151.5" width="22" height="45.0" fill="#1c1c1c" stroke="#000" stroke-width="1" shape-rendering="crispEdges"/>
<rect x="707.5" y="105.0" width="22" height="46.5" fill="#000000" stroke="#000" stroke-width="1" shape-rendering="crispEdges"/>
<text class="b" x="734" y="559.8" font-size="10.6" textLength="5" lengthAdjust="spacingAndGlyphs">0</text>
<text class="b" x="734" y="514.8" font-size="10.6" textLength="17" lengthAdjust="spacingAndGlyphs">0.1</text>
<text class="b" x="734" y="469.8" font-size="10.6" textLength="17" lengthAdjust="spacingAndGlyphs">0.2</text>
<text class="b" x="734" y="424.8" font-size="10.6" textLength="17" lengthAdjust="spacingAndGlyphs">0.3</text>
<text class="b" x="734" y="379.8" font-size="10.6" textLength="17" lengthAdjust="spacingAndGlyphs">0.4</text>
<text class="b" x="734" y="334.8" font-size="10.6" textLength="17" lengthAdjust="spacingAndGlyphs">0.5</text>
<text class="b" x="734" y="289.8" font-size="10.6" textLength="17" lengthAdjust="spacingAndGlyphs">0.6</text>
<text class="b" x="734" y="244.8" font-size="10.6" textLength="17" lengthAdjust="spacingAndGlyphs">0.7</text>
<text class="b" x="734" y="199.8" font-size="10.6" textLength="17" lengthAdjust="spacingAndGlyphs">0.8</text>
<text class="b" x="734" y="154.8" font-size="10.6" textLength="17" lengthAdjust="spacingAndGlyphs">0.9</text>
<text class="b" x="734" y="109.1" font-size="10.6" textLength="5" lengthAdjust="spacingAndGlyphs">1</text>
<text class="s" x="84.5" y="587.5" font-size="17" textLength="33" lengthAdjust="spacingAndGlyphs">0.0°</text>
<text class="s" x="231.0" y="587.5" font-size="17" textLength="45" lengthAdjust="spacingAndGlyphs">2.0°E</text>
<text class="s" x="381.0" y="587.5" font-size="17" textLength="44" lengthAdjust="spacingAndGlyphs">4.0°E</text>
<text class="s" x="533.0" y="587.5" font-size="17" textLength="44" lengthAdjust="spacingAndGlyphs">6.0°E</text>
<text class="s" x="16" y="175.1" font-size="17" textLength="57" lengthAdjust="spacingAndGlyphs">52.0°N</text>
<text class="s" x="16" y="287.6" font-size="17" textLength="57" lengthAdjust="spacingAndGlyphs">51.0°N</text>
<text class="s" x="16" y="400.1" font-size="17" textLength="57" lengthAdjust="spacingAndGlyphs">50.0°N</text>
<text class="s" x="16" y="512.5" font-size="17" textLength="57" lengthAdjust="spacingAndGlyphs">49.0°N</text>
<text class="s" x="90.5" y="59.8" font-size="14.5" textLength="191" lengthAdjust="spacingAndGlyphs">TIME : 25-FEB-2017 10:00</text>
<text class="s" x="463.5" y="58.3" font-size="14.5" textLength="228" lengthAdjust="spacingAndGlyphs">DATA SET: MAR_72h.20170223.00</text>
<text class="s" x="290" y="80.8" font-size="14.5" textLength="203" lengthAdjust="spacingAndGlyphs">MAR — Exp: f02 — 20170223</text>
<text class="f" x="361" y="602.5" font-size="12" font-weight="bold" textLength="60" lengthAdjust="spacingAndGlyphs">Longitude</text>
<text class="f" x="0" y="0" font-size="12" font-weight="bold" textLength="51" lengthAdjust="spacingAndGlyphs" transform="translate(10.5 357) rotate(-90)">Latitude</text>
<text class="r" x="12.5" y="617.3" font-size="9.7" textLength="170" lengthAdjust="spacingAndGlyphs">MAR model forced by GFS model</text>
<text class="r" x="11" y="632" font-size="8.8" textLength="159" lengthAdjust="spacingAndGlyphs">(C) Lab. Climatology &amp; Topoclimatology</text>
<text class="r" x="27" y="647.5" font-size="8.8" textLength="74" lengthAdjust="spacingAndGlyphs">University of Liege</text>
<text class="f" y="650.8" font-size="33"><tspan x="231.8" textLength="77.5" lengthAdjust="spacingAndGlyphs">Total</tspan> <tspan x="326.2" textLength="81" lengthAdjust="spacingAndGlyphs">cloud</tspan> <tspan x="425.5" textLength="78.5" lengthAdjust="spacingAndGlyphs">cover</tspan> <tspan x="521.3" textLength="44.7" lengthAdjust="spacingAndGlyphs">(%)</tspan></text>
</svg></body></html>
